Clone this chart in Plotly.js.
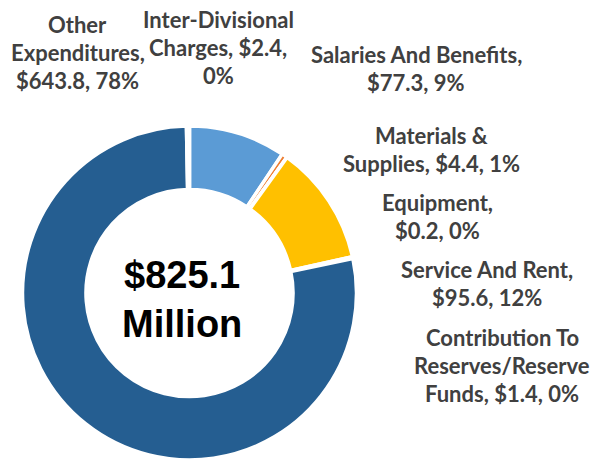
<!DOCTYPE html>
<html>
<head>
<meta charset="utf-8">
<script src="https://cdn.plot.ly/plotly-3.0.1.min.js"></script>
<style>html,body{margin:0;padding:0;background:#fff;}#chart{width:592px;height:460px;}</style>
</head>
<body>
<div id="chart"></div>
<script>
// ---- data ----
const categories = ['Salaries And Benefits', 'Materials & Supplies', 'Equipment', 'Service And Rent',
  'Contribution To Reserves/Reserve Funds', 'Other Expenditures', 'Inter-Divisional Charges'];
const amounts = [77.3, 4.4, 0.2, 95.6, 1.4, 643.8, 2.4];
const sliceColors = ['#5B9BD5', '#ED7D31', '#A5A5A5', '#FFC000', '#4472C4', '#255E91', '#9E480E'];
const totalLabel = ['$825.1', 'Million'];

// ---- layout helpers (label placement, pixels) ----
const W = 592, H = 460;
const wordsPerLine = [[3, 2], [2, 3], [1, 2], [3, 2], [2, 1, 3], [1, 1, 2], [1, 2, 1]];
const labelPos = [[416, 55], [431, 135], [437, 202], [487, 269], [502, 337], [78, 24], [218, 20]];
const lineGap = 28;
const cx = 189.5, cy = 293, R = 167;

const total = amounts.reduce((a, b) => a + b, 0);
const annotations = [];
categories.forEach((cat, i) => {
  const pct = Math.round(amounts[i] / total * 100);
  const full = `${cat}, $${amounts[i].toFixed(1)}, ${pct}%`;
  const words = full.split(' ');
  let k = 0;
  wordsPerLine[i].forEach((n, li) => {
    const line = words.slice(k, k + n).join(' ');
    k += n;
    annotations.push({
      text: line, showarrow: false, xref: 'paper', yref: 'paper',
      x: labelPos[i][0] / W, y: 1 - (labelPos[i][1] + li * lineGap) / H,
      xanchor: 'center', yanchor: 'middle',
      font: {family: 'Lato, "Open Sans", sans-serif', size: 22, color: '#404040', weight: 'bold'}
    });
  });
});
annotations.push({
  text: '<b>' + totalLabel.join('<br>') + '</b>', showarrow: false, xref: 'paper', yref: 'paper',
  x: 182 / W, y: 1 - 299.5 / H, xanchor: 'center', yanchor: 'middle',
  font: {family: '"Liberation Sans", Arial, sans-serif', size: 38, color: '#000000'}
});

const trace = {
  type: 'pie', labels: categories, values: amounts, sort: false, direction: 'clockwise', rotation: 0,
  hole: 0.62, textinfo: 'none', hoverinfo: 'label+value+percent',
  marker: {colors: sliceColors, line: {color: '#ffffff', width: 3.5}},
  domain: {x: [(cx - R) / W, (cx + R) / W], y: [(H - cy - R) / H, (H - cy + R) / H]}
};

Plotly.newPlot('chart', [trace], {
  width: W, height: H, margin: {l: 0, r: 0, t: 0, b: 0},
  paper_bgcolor: '#ffffff', plot_bgcolor: '#ffffff', showlegend: false,
  annotations: annotations
}, {displayModeBar: false, staticPlot: true});
</script>
</body>
</html>
